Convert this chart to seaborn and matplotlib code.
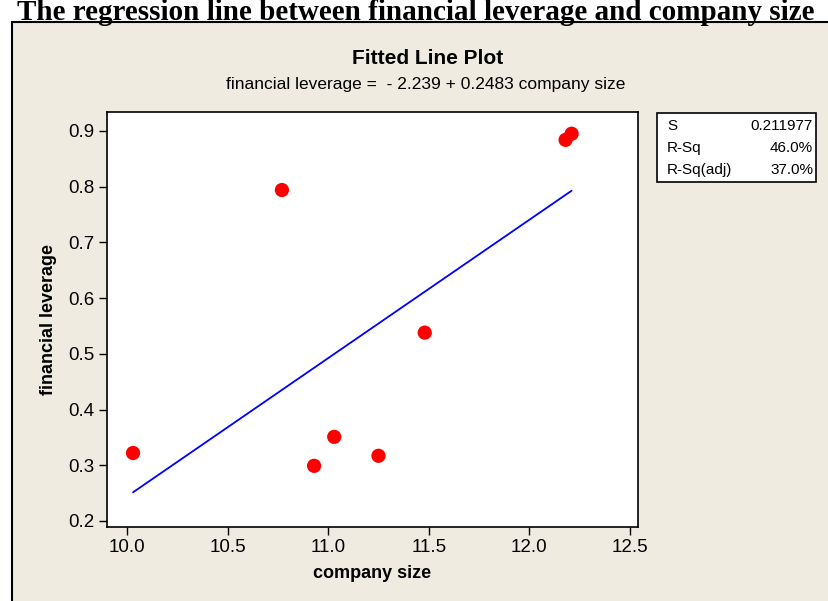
import matplotlib
matplotlib.use("Agg")
import matplotlib.pyplot as plt
from matplotlib.patches import Rectangle
import numpy as np
import pandas as pd
import seaborn as sns

# ---- data ----
company_size = [10.03, 10.77, 10.93, 11.03, 11.25, 11.48, 12.18, 12.21]
financial_leverage = [0.322, 0.794, 0.299, 0.351, 0.317, 0.538, 0.884, 0.895]
intercept = -2.239
slope = 0.2483
x_ticks = [10.0, 10.5, 11.0, 11.5, 12.0, 12.5]
y_ticks = [0.2, 0.3, 0.4, 0.5, 0.6, 0.7, 0.8, 0.9]
stat_names = ["S", "R-Sq", "R-Sq(adj)"]
stat_values = ["0.211977", "46.0%", "37.0%"]

sns.set_theme(style="ticks")
plt.rcParams['font.family'] = ['Liberation Sans', 'DejaVu Sans']
plt.rcParams['text.color'] = 'black'
plt.rcParams['axes.labelcolor'] = 'black'

df = pd.DataFrame({"company size": company_size, "financial leverage": financial_leverage})
xs = np.sort(np.array(company_size))
fit = pd.DataFrame({"x": xs, "y": intercept + slope * xs})

W, H = 829, 601
fig = plt.figure(figsize=(W / 100, H / 100), dpi=100, facecolor="white")

# beige panel
beige = "#EFEBE1"
fig.patches.append(Rectangle((12 / W, -0.01), 1.0, 1 - 22 / H + 0.01, transform=fig.transFigure,
                             facecolor=beige, edgecolor="black", linewidth=1.5, zorder=-5))

ax = fig.add_axes([107 / W, 1 - 527 / H, 531 / W, 415 / H])
ax.set_zorder(2)
ax.set_facecolor("white")

sns.lineplot(data=fit, x="x", y="y", ax=ax, color="#0000FF", linewidth=1.3, zorder=2)
sns.scatterplot(data=df, x="company size", y="financial leverage", ax=ax, color="#FF0000",
                s=105, marker="o", edgecolor="none", zorder=3)

ax.set_xlim(9.9006, 12.540)
ax.set_ylim(0.1892, 0.934)
ax.set_xticks(x_ticks)
ax.set_xticklabels([f"{v:.1f}" for v in x_ticks])
ax.set_yticks(y_ticks)
ax.set_yticklabels([f"{v:.1f}" for v in y_ticks])
ax.tick_params(axis="both", direction="out", length=6, width=1, labelsize=13.5, color="black",
               labelcolor="black", pad=3)
for sp in ax.spines.values():
    sp.set_visible(True)
    sp.set_color("black")
    sp.set_linewidth(1.2)
ax.set_xlabel("company size", fontsize=13, fontweight="bold", labelpad=6)
ax.set_ylabel("financial leverage", fontsize=13, fontweight="bold", labelpad=8)

# titles
fig.text(416 / W, 1 - 20 / H, "The regression line between financial leverage and company size",
         family=["Liberation Serif", "DejaVu Serif"], fontweight="bold", fontsize=21,
         ha="center", va="baseline", color="black")
fig.text(428 / W, 1 - 59 / H, "Fitted Line Plot", fontsize=15, fontweight="bold",
         ha="center", va="center")
fig.text(426 / W, 1 - 85 / H, "financial leverage =  - 2.239 + 0.2483 company size", fontsize=12.5,
         ha="center", va="center")

# stats box
fig.patches.append(Rectangle((657 / W, 1 - 182 / H), 159 / W, 69 / H, transform=fig.transFigure,
                             facecolor="white", edgecolor="black", linewidth=1.2, zorder=1))
for i, (n, v) in enumerate(zip(stat_names, stat_values)):
    yy = 1 - (126 + i * 22) / H
    fig.text(667 / W, yy, n, fontsize=11, ha="left", va="center")
    fig.text(813 / W, yy, v, fontsize=11, ha="right", va="center")

fig.savefig("out.png", dpi=100, facecolor="white")
